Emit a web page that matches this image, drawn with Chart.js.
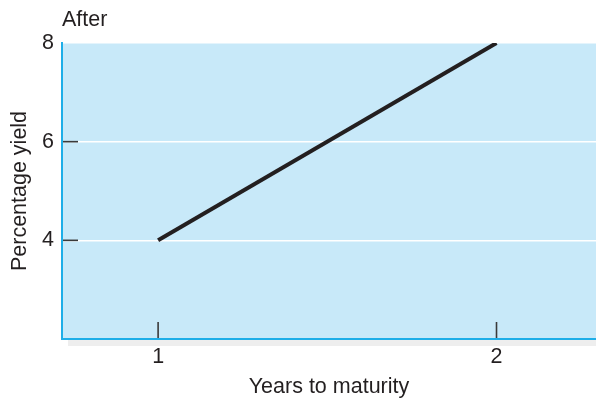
<!DOCTYPE html>
<html>
<head>
<meta charset="utf-8">
<script src="https://cdn.jsdelivr.net/npm/chart.js@4/dist/chart.umd.min.js"></script>
<style>
  html, body { margin: 0; padding: 0; background: #ffffff; }
  #wrap { width: 596px; height: 398px; }
</style>
</head>
<body>
<div id="wrap"><canvas id="c" width="596" height="398"></canvas></div>
<script>
// Yield curve after the change
const years = [1, 2];
const yields = [4, 8];
const yTickValues = [4, 6, 8];
const xTickValues = [1, 2];
const panelTitle = 'After';
const xTitle = 'Years to maturity';
const yTitle = 'Percentage yield';

const FONT = "'Liberation Sans', Arial, Helvetica, sans-serif";
const FONT_SIZE = 21.5;
const TEXT = '#231f20';
const PLOT_BG = '#c8e9f9';
const AXIS_BLUE = '#1eaee8';
const TICK_DARK = '#3a3a3a';

const plotDecor = {
  id: 'plotDecor',
  beforeDraw(chart) {
    const { ctx, chartArea: a } = chart;
    ctx.save();
    // soft grey strip under the base line
    ctx.fillStyle = '#eeeeee';
    ctx.fillRect(a.left + 6, a.bottom + 1, a.right - a.left - 6, 6);
    ctx.fillStyle = PLOT_BG;
    ctx.fillRect(a.left, a.top, a.right - a.left, a.bottom - a.top);
    ctx.restore();
  },
  afterDraw(chart) {
    const { ctx, chartArea: a, scales } = chart;
    ctx.save();
    ctx.strokeStyle = TICK_DARK;
    ctx.lineWidth = 1.6;
    // inner tick marks on the y axis
    yTickValues.forEach(v => {
      const y = scales.y.getPixelForValue(v);
      if (y <= a.top + 1) return;
      ctx.beginPath();
      ctx.moveTo(a.left + 1, y);
      ctx.lineTo(a.left + 16, y);
      ctx.stroke();
    });
    // inner tick marks on the x axis
    xTickValues.forEach(v => {
      const x = scales.x.getPixelForValue(v);
      ctx.beginPath();
      ctx.moveTo(x, a.bottom - 1);
      ctx.lineTo(x, a.bottom - 17);
      ctx.stroke();
    });
    // panel heading
    ctx.fillStyle = TEXT;
    ctx.font = FONT_SIZE + 'px ' + FONT;
    ctx.textAlign = 'left';
    ctx.textBaseline = 'alphabetic';
    ctx.fillText(panelTitle, a.left, 26);
    ctx.restore();
  }
};

new Chart(document.getElementById('c'), {
  type: 'line',
  data: {
    datasets: [{
      data: years.map((x, i) => ({ x, y: yields[i] })),
      borderColor: '#231f20',
      borderWidth: 4,
      pointRadius: 0,
      tension: 0,
      fill: false,
      borderCapStyle: 'butt'
    }]
  },
  options: {
    responsive: false,
    animation: false,
    devicePixelRatio: 1,
    layout: { padding: { top: 43, right: 0, left: 0, bottom: 0 } },
    plugins: { legend: { display: false }, tooltip: { enabled: false }, title: { display: false } },
    scales: {
      x: {
        type: 'linear',
        min: 0.716,
        max: 2.294,
        afterFit(s) { s.height = 59; },
        afterBuildTicks(s) { s.ticks = xTickValues.map(v => ({ value: v })); },
        grid: { display: false, drawTicks: false },
        border: { display: true, color: AXIS_BLUE, width: 2 },
        ticks: { padding: 5, color: TEXT, font: { family: FONT, size: FONT_SIZE }, maxRotation: 0 },
        title: {
          display: true, text: xTitle, color: TEXT,
          font: { family: FONT, size: FONT_SIZE, lineHeight: 1 },
          padding: { top: 0, bottom: 0 }
        }
      },
      y: {
        type: 'linear',
        min: 2,
        max: 8,
        afterFit(s) { s.width = 62; },
        afterBuildTicks(s) { s.ticks = yTickValues.map(v => ({ value: v })); },
        grid: {
          drawTicks: false,
          color: '#ffffff',
          lineWidth: 1.5
        },
        border: { display: true, color: AXIS_BLUE, width: 2 },
        ticks: { padding: 8, color: TEXT, font: { family: FONT, size: FONT_SIZE } },
        title: {
          display: true, text: yTitle, color: TEXT,
          font: { family: FONT, size: FONT_SIZE, lineHeight: 1 },
          padding: { top: 9, bottom: 0 }
        }
      }
    }
  },
  plugins: [plotDecor]
});
</script>
</body>
</html>
